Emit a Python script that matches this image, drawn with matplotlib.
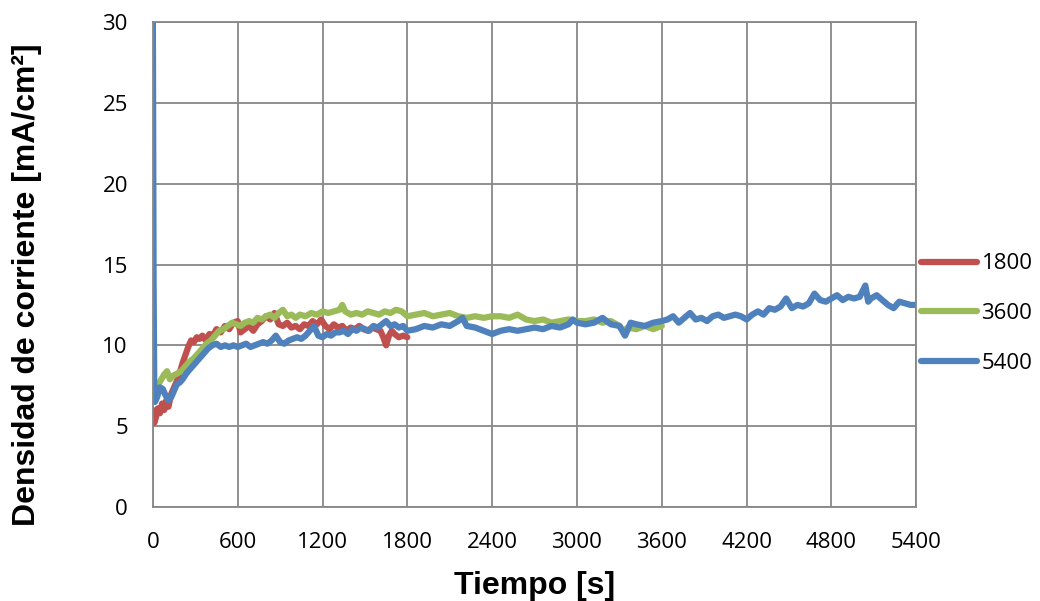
import matplotlib
matplotlib.use("Agg")
import matplotlib.pyplot as plt

# tiempo [s] y densidad de corriente [mA/cm2]
t_1800 = [0, 5, 10, 20, 35, 50, 65, 80, 95, 110,
          130, 150, 170, 190, 210, 230, 250, 270, 290, 310,
          330, 350, 375, 400, 425, 450, 480, 510, 540, 570,
          600, 620, 650, 680, 710, 740, 770, 800, 830, 860,
          890, 920, 950, 980, 1010, 1040, 1070, 1100, 1130, 1160,
          1190, 1220, 1250, 1280, 1310, 1340, 1370, 1400, 1430, 1460,
          1490, 1520, 1550, 1580, 1610, 1630, 1650, 1670, 1690, 1710,
          1740, 1770, 1800]
j_1800 = [6.0, 5.6, 5.2, 5.5, 6.1, 5.8, 6.4, 6.0, 6.6, 6.2,
          7.0, 7.4, 7.8, 8.3, 8.9, 9.4, 9.9, 10.3, 10.2, 10.5,
          10.4, 10.6, 10.3, 10.7, 10.6, 11.0, 10.8, 11.2, 11.0, 11.4,
          11.5, 10.8, 11.0, 11.2, 10.9, 11.3, 11.5, 11.8, 11.6, 12.0,
          11.3, 11.2, 11.4, 11.1, 11.2, 11.0, 11.3, 11.2, 11.5, 11.3,
          11.6, 11.2, 11.0, 11.3, 11.1, 11.2, 10.9, 11.1, 11.0, 11.2,
          11.0, 10.9, 11.1, 11.0, 10.9, 10.5, 10.0, 10.6, 10.9, 10.7,
          10.5, 10.6, 10.5]

t_3600 = [0, 10, 25, 40, 60, 80, 100, 120, 140, 160,
          180, 200, 230, 260, 290, 320, 350, 380, 410, 440,
          470, 500, 530, 560, 590, 620, 650, 680, 710, 740,
          770, 800, 830, 860, 890, 920, 950, 980, 1010, 1040,
          1080, 1120, 1160, 1200, 1240, 1280, 1320, 1340, 1360, 1400,
          1440, 1480, 1520, 1560, 1600, 1640, 1680, 1720, 1760, 1800,
          1860, 1920, 1980, 2040, 2100, 2160, 2220, 2280, 2340, 2400,
          2460, 2520, 2580, 2640, 2700, 2760, 2820, 2880, 2940, 3000,
          3060, 3120, 3180, 3240, 3300, 3330, 3360, 3420, 3480, 3540,
          3600]
j_3600 = [8.0, 7.3, 7.5, 7.6, 7.9, 8.2, 8.4, 7.9, 8.1, 8.2,
          8.3, 8.4, 8.7, 9.0, 9.2, 9.5, 9.8, 10.1, 10.3, 10.6,
          10.9, 11.0, 11.2, 11.4, 11.3, 11.2, 11.4, 11.5, 11.4, 11.7,
          11.6, 11.8, 11.9, 11.7, 12.0, 12.2, 11.8, 11.9, 11.7, 11.9,
          11.8, 12.0, 11.9, 12.1, 12.0, 12.1, 12.2, 12.5, 12.1, 11.9,
          12.0, 11.9, 12.1, 12.0, 11.9, 12.1, 12.0, 12.2, 12.1, 11.8,
          11.9, 12.0, 11.8, 11.9, 12.0, 11.8, 11.7, 11.8, 11.7, 11.8,
          11.8, 11.7, 11.9, 11.6, 11.5, 11.6, 11.4, 11.5, 11.6, 11.5,
          11.5, 11.6, 11.4, 11.5, 11.2, 10.9, 11.1, 11.0, 11.2, 11.0,
          11.2]

t_5400 = [0, 5, 10, 15, 30, 50, 70, 90, 110, 130,
          150, 170, 190, 210, 240, 270, 300, 330, 360, 390,
          420, 450, 480, 510, 540, 570, 600, 630, 660, 690,
          720, 750, 780, 810, 840, 870, 900, 930, 960, 990,
          1020, 1050, 1080, 1110, 1140, 1170, 1200, 1230, 1260, 1290,
          1320, 1350, 1380, 1410, 1440, 1470, 1500, 1530, 1560, 1590,
          1620, 1650, 1680, 1710, 1740, 1770, 1800, 1860, 1920, 1980,
          2040, 2100, 2160, 2190, 2220, 2280, 2340, 2400, 2460, 2520,
          2580, 2640, 2700, 2760, 2820, 2880, 2940, 2970, 3000, 3060,
          3120, 3180, 3210, 3240, 3300, 3340, 3380, 3420, 3480, 3540,
          3600, 3640, 3680, 3720, 3760, 3800, 3840, 3880, 3920, 3960,
          4000, 4040, 4080, 4120, 4160, 4200, 4240, 4280, 4320, 4360,
          4400, 4440, 4480, 4520, 4560, 4600, 4640, 4680, 4720, 4760,
          4800, 4840, 4880, 4920, 4960, 5000, 5040, 5060, 5080, 5120,
          5160, 5200, 5240, 5280, 5320, 5360, 5400]
j_5400 = [30.0, 14.0, 7.0, 6.5, 6.8, 7.4, 7.3, 6.9, 6.6, 6.8,
          7.2, 7.6, 7.7, 7.9, 8.3, 8.6, 8.9, 9.2, 9.5, 9.8,
          10.0, 10.1, 9.9, 10.0, 9.9, 10.0, 9.9, 10.0, 10.1, 9.9,
          10.0, 10.1, 10.2, 10.1, 10.3, 10.6, 10.2, 10.1, 10.3, 10.4,
          10.5, 10.4, 10.6, 10.9, 11.2, 10.6, 10.5, 10.7, 10.6, 10.8,
          10.8, 10.9, 10.7, 11.0, 10.9, 11.1, 11.0, 10.9, 11.2, 11.1,
          11.3, 11.5, 11.2, 11.3, 11.1, 11.2, 10.9, 11.0, 11.2, 11.1,
          11.3, 11.2, 11.5, 11.7, 11.2, 11.1, 10.9, 10.7, 10.9, 11.0,
          10.9, 11.0, 11.1, 11.0, 11.2, 11.1, 11.3, 11.6, 11.4, 11.3,
          11.4, 11.7, 11.5, 11.3, 11.2, 10.6, 11.4, 11.3, 11.2, 11.4,
          11.5, 11.6, 11.8, 11.4, 11.7, 12.0, 11.6, 11.7, 11.5, 11.8,
          11.9, 11.7, 11.8, 11.9, 11.8, 11.6, 11.9, 12.1, 11.9, 12.3,
          12.2, 12.4, 12.9, 12.3, 12.5, 12.4, 12.6, 13.2, 12.8, 12.7,
          12.9, 13.1, 12.8, 13.0, 12.9, 13.0, 13.7, 12.7, 12.9, 13.1,
          12.8, 12.5, 12.3, 12.7, 12.6, 12.5, 12.5]

etiquetas = ["1800", "3600", "5400"]
colores = ["#C0504D", "#9BBB59", "#4F81BD"]
x_ticks = [0, 600, 1200, 1800, 2400, 3000, 3600, 4200, 4800, 5400]
y_ticks = [0, 5, 10, 15, 20, 25, 30]

fig = plt.figure(figsize=(10.4, 6.01), dpi=100)
ax = fig.add_axes([0.147, 0.1564, 0.734, 0.807])

series = [(t_1800, j_1800), (t_3600, j_3600), (t_5400, j_5400)]
for (t, j), lab, c in zip(series, etiquetas, colores):
    ax.plot(t, j, color=c, linewidth=4.5, label=lab, solid_capstyle="round",
            solid_joinstyle="round")

ax.set_xlim(0, 5400)
ax.set_ylim(0, 30)
ax.set_xticks(x_ticks)
ax.set_yticks(y_ticks)
ax.grid(True, color="#878787", linewidth=1.3)
ax.set_axisbelow(True)
for s in ax.spines.values():
    s.set_color("#878787")
    s.set_linewidth(1.3)
ax.tick_params(length=0, labelsize=16, pad=18)
for lbl in ax.get_xticklabels() + ax.get_yticklabels():
    lbl.set_family("Open Sans")

ax.set_xlabel("Tiempo [s]", fontsize=23, fontweight="bold",
              family="Liberation Sans", labelpad=13)
ax.set_ylabel("Densidad de corriente [mA/cm²]", fontsize=23, fontweight="bold",
              family="Liberation Sans")
ax.yaxis.set_label_coords(-0.145, 0.458)

leg = fig.legend(loc="center left", bbox_to_anchor=(0.886, 0.478), frameon=False,
                 prop={"family": "Open Sans", "size": 16}, handlelength=2.5,
                 handletextpad=0.2, labelspacing=1.3, borderpad=0,
                 borderaxespad=0)

plt.savefig("out.png", dpi=100)
